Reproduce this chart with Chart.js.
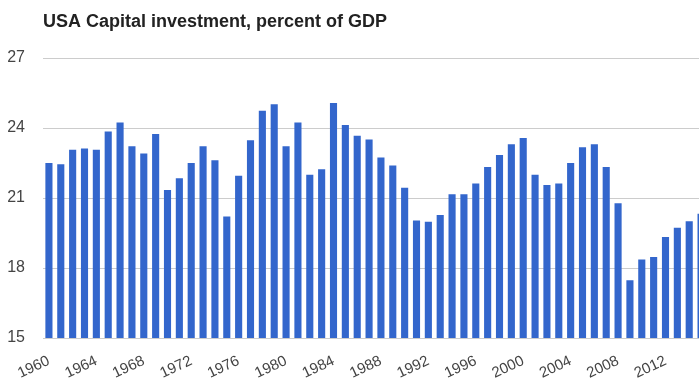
<!DOCTYPE html>
<html lang="en">
<head>
    <meta charset="UTF-8">
    <title>USA Capital investment, percent of GDP</title>
    <script src="https://cdn.jsdelivr.net/npm/chart.js"></script>
    <style>
        body { margin: 0; overflow: hidden; background: #fff; }
        #wrap { width: 714px; height: 380px; }
    </style>
</head>
<body>
    <div id="wrap">
        <canvas id="myChart" width="714" height="380"></canvas>
    </div>
    <script>
        // years shown on the x axis
        const years = [];
        for (let y = 1960; y <= 2015; y++) years.push(String(y));

        // capital investment, % of GDP
        const investment = [
            22.5, 22.45, 23.07, 23.12, 23.07, 23.85, 24.24, 23.22, 22.91, 23.74,
            21.34, 21.85, 22.5, 23.22, 22.62, 20.21, 21.95, 23.47, 24.74, 25.02,
            23.22, 24.24, 22.0, 22.23, 25.07, 24.13, 23.67, 23.51, 22.74, 22.39,
            21.44, 20.04, 19.98, 20.27, 21.16, 21.16, 21.62, 22.33, 22.84, 23.3,
            23.57, 22.0, 21.56, 21.62, 22.5, 23.18, 23.3, 22.33, 20.77, 17.47,
            18.36, 18.47, 19.33, 19.72, 20.0, 20.33
        ];

        const yTicks = [15, 18, 21, 24, 27];
        const chartTitle = 'USA Capital investment, percent of GDP';
        const fontFamily = '"Liberation Sans", Arial, sans-serif';

        // title drawn at the left edge of the plot area
        const titlePlugin = {
            id: 'leftTitle',
            afterDraw(chart) {
                const ctx = chart.ctx;
                ctx.save();
                ctx.font = 'bold 18px ' + fontFamily;
                ctx.fillStyle = '#222';
                ctx.textBaseline = 'alphabetic';
                ctx.fillText(chartTitle, chart.chartArea.left, 27);
                ctx.restore();
            }
        };

        const ctx = document.getElementById('myChart').getContext('2d');
        const myChart = new Chart(ctx, {
            type: 'bar',
            data: {
                labels: years,
                datasets: [{
                    label: 'Capital investment',
                    data: investment,
                    backgroundColor: '#3366cc',
                    categoryPercentage: 1.0,
                    barPercentage: 0.6,
                }],
            },
            plugins: [titlePlugin],
            options: {
                responsive: false,
                animation: false,
                layout: {
                    padding: { top: 58, left: 7, right: 7, bottom: 0 }
                },
                plugins: {
                    legend: { display: false },
                    tooltip: { enabled: false },
                },
                scales: {
                    x: {
                        grid: { display: false, drawTicks: false },
                        border: { display: false },
                        afterFit: function (scale) {
                            // don't let the rotated first label push the plot right
                            scale.paddingLeft = 0;
                            scale.paddingRight = 0;
                            scale.height = 42;
                        },
                        ticks: {
                            autoSkip: false,
                            minRotation: 25,
                            maxRotation: 25,
                            padding: 14,
                            color: '#444',
                            font: { family: fontFamily, size: 15 },
                            callback: function (value, index) {
                                const yr = Number(years[index]);
                                return yr % 4 === 0 ? years[index] : '';
                            }
                        }
                    },
                    y: {
                        min: 15,
                        max: 27,
                        afterBuildTicks: function (axis) {
                            axis.ticks = yTicks.map(v => ({ value: v }));
                        },
                        afterFit: function (scale) {
                            scale.width = 36;
                        },
                        grid: { color: '#cccccc', drawTicks: false },
                        border: { display: false },
                        ticks: {
                            padding: 18,
                            color: '#444',
                            font: { family: fontFamily, size: 16 },
                        }
                    }
                }
            }
        });
    </script>
</body>
</html>
